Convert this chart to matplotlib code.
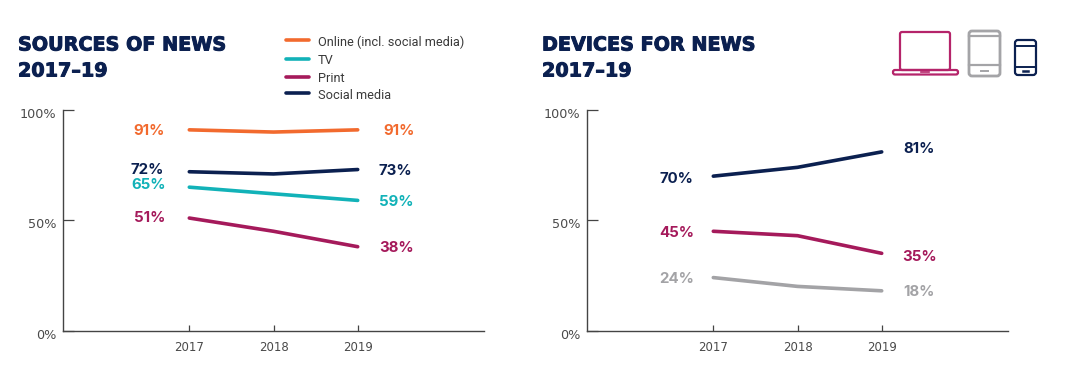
import matplotlib
matplotlib.use("Agg")
import matplotlib.pyplot as plt
import matplotlib.patheffects as pe
from matplotlib.patches import FancyBboxPatch
from matplotlib.lines import Line2D
from matplotlib.transforms import ScaledTranslation

W, H = 1080, 392
years = [2017, 2018, 2019]
tick_labels = ["2017", "2018", "2019"]
y_ticks = [0, 50, 100]
y_labels = ["0%", "50%", "100%"]

online = [91, 90, 91]
tv = [65, 62, 59]
print_media = [51, 45, 38]
social = [72, 71, 73]

smartphone = [70, 74, 81]
laptop = [45, 43, 35]
tablet = [24, 20, 18]

ORANGE = "#f26a2e"
TEAL = "#12b2b8"
PURPLE = "#a51a5b"
NAVY = "#0b2050"
GREY = "#a3a3a6"
AXIS = "#444444"
TXT = "#4a4a4a"
BODY = "Inter"
HEAD = "DejaVu Sans"

fig = plt.figure(figsize=(W / 100, H / 100), dpi=100, facecolor="white")


def fx(x):
    return x / W


def fy(y):
    return 1 - y / H


def make_axes(left, right, top=110, bottom=330.5):
    ax = fig.add_axes([fx(left), fy(bottom), (right - left) / W, (bottom - top) / H])
    ax.set_xlim(2015.5, 2020.5)
    ax.set_ylim(0, 100)
    for s in ("top", "right"):
        ax.spines[s].set_visible(False)
    for s in ("left", "bottom"):
        ax.spines[s].set_color(AXIS)
        ax.spines[s].set_linewidth(1.0)
    ax.set_xticks(years, tick_labels, fontfamily="DejaVu Sans", fontsize=8.5, color=TXT)
    ax.tick_params(axis="x", direction="in", length=4.1, width=0.9, color=AXIS, pad=7.5)
    ax.set_yticks(y_ticks, y_labels, fontfamily="DejaVu Sans", fontsize=9.2, color=TXT)
    ax.tick_params(axis="y", direction="in", length=8, width=0.9, color=AXIS, pad=5)
    off = ScaledTranslation(0, -2.3 / 72, fig.dpi_scale_trans)
    for lab in ax.get_yticklabels():
        lab.set_transform(lab.get_transform() + off)
    return ax


def label(ax, x, y, text, color, dx, dy):
    ax.annotate(text, (x, y), xytext=(dx, dy), textcoords="offset pixels",
                ha="center", va="center", color=color, fontsize=10.8,
                fontweight="bold", fontfamily=BODY)


def draw(ax, series, color, left_off, right_off):
    ax.plot(years, series, color=color, lw=2.6, solid_capstyle="round", solid_joinstyle="miter")
    label(ax, years[0], series[0], f"{series[0]}%", color, *left_off)
    label(ax, years[-1], series[-1], f"{series[-1]}%", color, *right_off)


ax1 = make_axes(63, 484)
draw(ax1, online, ORANGE, (-40, -1), (41, -1))
draw(ax1, tv, TEAL, (-41, 2), (39, -2))
draw(ax1, print_media, PURPLE, (-40, 0), (39, -1))
draw(ax1, social, NAVY, (-42, 2), (38, -1))

ax2 = make_axes(587, 1008)
draw(ax2, smartphone, NAVY, (-37, -3), (37, 3))
draw(ax2, laptop, PURPLE, (-37, -2), (38, -4))
draw(ax2, tablet, GREY, (-37, -1), (37, -1))

for x, txt in ((18, "SOURCES OF NEWS"), (542, "DEVICES FOR NEWS")):
    for y, s in ((45, txt), (71, "2017–19")):
        fig.text(fx(x), fy(y), s, fontfamily=HEAD, fontweight="bold", fontsize=13.8, color=NAVY, va="center",
                 path_effects=[pe.Stroke(linewidth=0.7, foreground=NAVY), pe.Normal()])

legend_labels = ["Online (incl. social media)", "TV", "Print", "Social media"]
legend_colors = [ORANGE, TEAL, PURPLE, NAVY]
legend_rows = [40, 58.5, 76.5, 93]
for name, col, y in zip(legend_labels, legend_colors, legend_rows):
    fig.add_artist(Line2D([fx(286), fx(309)], [fy(y), fy(y)], color=col, lw=2.6, solid_capstyle="round"))
    fig.text(fx(318), fy(y + 2.5), name, fontfamily="Roboto", fontsize=9.2, color="#3a3a3a", va="center")


def rbox(x0, y0, x1, y1, col, lw=1.8, r=2):
    fig.add_artist(FancyBboxPatch((x0, H - y1), x1 - x0, y1 - y0, boxstyle=f"round,pad=0,rounding_size={r}",
                                  transform=None, fc="none", ec=col, lw=lw))


def hline(x0, x1, y, col, lw=1.5):
    fig.add_artist(Line2D([fx(x0), fx(x1)], [fy(y), fy(y)], color=col, lw=lw))


# laptop icon
LAP = "#b5246a"
rbox(900, 32, 950, 70, LAP, 1.6)
rbox(893, 70, 958, 74.5, LAP, 1.6, 2)
hline(921, 929, 71.5, LAP, 1.2)
# tablet icon
TAB = "#a4a4a7"
rbox(969, 31, 1000, 76, TAB, 2.0, 3)
hline(969, 1000, 36, TAB, 1.6)
hline(969, 1000, 65, TAB, 1.6)
hline(981, 988, 71, TAB, 1.4)
# phone icon
rbox(1015, 40, 1036, 75, NAVY, 1.6, 3)
hline(1015, 1036, 46, NAVY, 1.4)
hline(1015, 1036, 67, NAVY, 1.4)
hline(1023, 1028, 71, NAVY, 1.8)

fig.savefig("out.png", dpi=100, facecolor="white")
